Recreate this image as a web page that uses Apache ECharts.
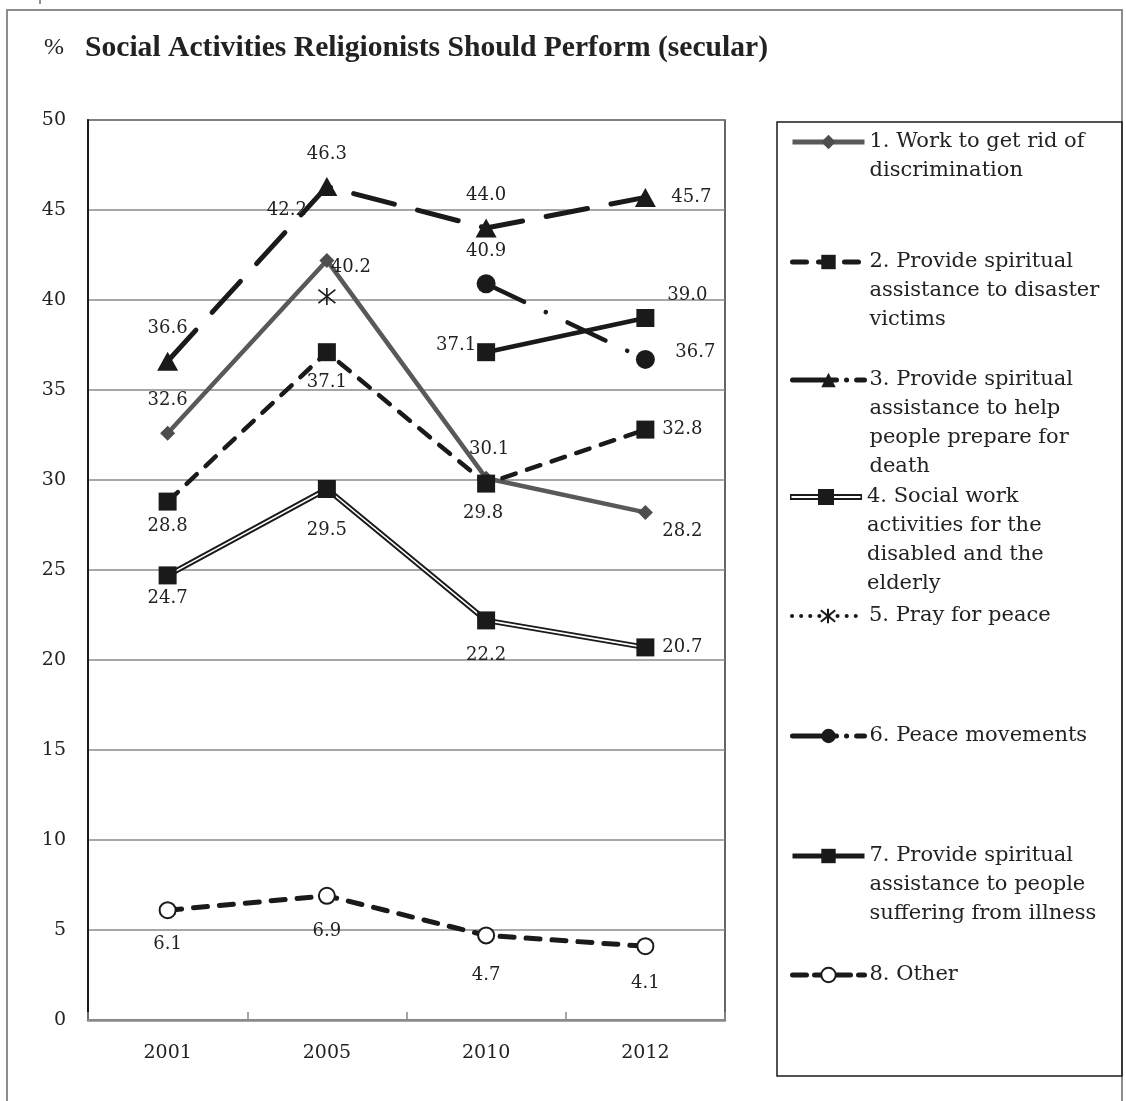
<!DOCTYPE html>
<html><head><meta charset="utf-8">
<script src="https://cdn.jsdelivr.net/npm/echarts@6/dist/echarts.min.js"></script>
<style>html,body{margin:0;padding:0;background:#fff}#chart{width:1126px;height:1101px}</style>
</head><body><div id="chart"></div>
<script>
// ---- data ----
const years = ['2001', '2005', '2010', '2012'];
const discrimination  = [32.6, 42.2, 30.1, 28.2];
const disasterVictims = [28.8, 37.1, 29.8, 32.8];
const prepareForDeath = [36.6, 46.3, 44.0, 45.7];
const socialWork      = [24.7, 29.5, 22.2, 20.7];
const prayForPeace    = [null, 40.2, null, null];
const peaceMovements  = [null, null, 40.9, 36.7];
const illness         = [null, null, 37.1, 39.0];
const other           = [6.1, 6.9, 4.7, 4.1];
const yMin = 0, yMax = 50, yStep = 5;

const names = [
  '1. Work to get rid of\ndiscrimination',
  '2. Provide spiritual\nassistance to disaster\nvictims',
  '3. Provide spiritual\nassistance to help\npeople prepare for\ndeath',
  '4. Social work\nactivities for the\ndisabled and the\nelderly',
  '5. Pray for peace',
  '6. Peace movements',
  '7. Provide spiritual\nassistance to people\nsuffering from illness',
  '8. Other'
];

// ---- label offsets (style) ----
const offs = {
  s1: [[0,-33],[-40,-50],[3,-29],[37,19]],
  s2: [[0,25],[0,30],[-3,30],[37,0]],
  s3: [[0,-33],[0,-32],[0,-33],[46,0]],
  s4: [[0,23],[0,41],[0,35],[37,0]],
  s5: [null,[24,-29],null,null],
  s6: [null,null,[0,-32],[50,-7]],
  s7: [null,null,[-30,-7],[42,-23]],
  s8: [[0,34],[0,36],[0,40],[0,37]]
};
const SERIF = 'DejaVu Serif';
const INK = '#1a1a1a';
function withLabels(arr, off) {
  return arr.map((v, i) => v == null ? '-' : {
    value: v,
    label: { show: true, position: 'inside', offset: off[i] || [0, 0] }
  });
}
const labelBase = {
  show: true, color: '#222', fontFamily: SERIF, fontSize: 18,
  formatter: p => Number(p.value).toFixed(1)
};

const asterisk = 'path://M2,2L18,18M18,2L2,18M10,0L10,20';
const doubleLineIcon = 'path://M0,6L72,6L72,12L0,12ZM1.5,8L1.5,10L70.5,10L70.5,8ZM28,1L44,1L44,17L28,17ZM0,0L0.01,0L0.01,0.01ZM0,18L0.01,18L0.01,17.99Z';

const series = [
  { name: names[0], type: 'line', data: withLabels(discrimination, offs.s1), z: 4,
    symbol: 'diamond', symbolSize: 15, itemStyle: { color: '#4d4d4d' },
    lineStyle: { color: '#595959', width: 4.5 }, label: labelBase },
  { name: names[1], type: 'line', data: withLabels(disasterVictims, offs.s2), z: 5,
    symbol: 'rect', symbolSize: 18, itemStyle: { color: INK },
    lineStyle: { color: INK, width: 4.5, type: [14, 12], cap: 'round' }, label: labelBase },
  { name: names[2], type: 'line', data: withLabels(prepareForDeath, offs.s3), z: 5,
    symbol: 'triangle', symbolSize: [21, 19], itemStyle: { color: INK },
    lineStyle: { color: INK, width: 5, type: [42, 24], cap: 'round' }, label: labelBase },
  { name: names[3], type: 'line', data: socialWork, z: 3,
    symbol: 'none', itemStyle: { color: INK },
    lineStyle: { color: INK, width: 5.5 } },
  { name: '4-inner', type: 'line', data: withLabels(socialWork, offs.s4), z: 3.5,
    symbol: 'rect', symbolSize: 18, itemStyle: { color: INK },
    lineStyle: { color: '#ffffff', width: 1.6 }, label: labelBase },
  { name: names[4], type: 'line', data: withLabels(prayForPeace, offs.s5), z: 5,
    symbol: asterisk, symbolSize: 17, itemStyle: { color: INK, borderColor: INK, borderWidth: 1.6 },
    lineStyle: { color: INK, width: 4, type: [0.1, 9], cap: 'round' }, label: labelBase },
  { name: names[5], type: 'line', data: withLabels(peaceMovements, offs.s6), z: 5,
    symbol: 'circle', symbolSize: 19, itemStyle: { color: INK },
    lineStyle: { color: INK, width: 4.5, type: [42, 24, 0.1, 24], cap: 'round' }, label: labelBase },
  { name: names[6], type: 'line', data: withLabels(illness, offs.s7), z: 5,
    symbol: 'rect', symbolSize: 18, itemStyle: { color: INK },
    lineStyle: { color: INK, width: 4.5 }, label: labelBase },
  { name: names[7], type: 'line', data: withLabels(other, offs.s8), z: 5,
    symbol: 'circle', symbolSize: 16, itemStyle: { color: '#ffffff', borderColor: INK, borderWidth: 2 },
    lineStyle: { color: INK, width: 5, type: [14, 12], cap: 'round' }, label: labelBase }
];

// ---- legend layout (style) ----
const LH = 29;
const legendCenters = [142, 262, 380, 497, 616, 736, 856, 975];
const legendLine = [
  { width: 5 }, { width: 5 }, { width: 5, type: [44, 10, 0.1, 10] }, { width: 5 },
  { width: 4 }, { width: 5, type: [44, 10, 0.1, 10] }, { width: 5 }, { width: 5, type: [14, 8] }
];
const legends = names.map((nm, i) => {
  const n = nm.split('\n').length;
  return {
    data: [i === 3 ? { name: nm, icon: doubleLineIcon } : nm],
    formatter: s => '\n'.repeat(n - 1) + s,
    left: 790, top: legendCenters[i] - (2 * n - 1) * LH / 2,
    orient: 'vertical', padding: 0, itemWidth: 72, itemHeight: 18, selectedMode: false,
    lineStyle: legendLine[i],
    textStyle: { fontFamily: SERIF, fontSize: 21, lineHeight: LH, color: '#222' }
  };
});

const chart = echarts.init(document.getElementById('chart'), null, { renderer: 'canvas' });
chart.setOption({
  animation: false,
  backgroundColor: '#ffffff',
  title: [
    { text: '%', left: 44, top: 36, padding: 0,
      textStyle: { fontFamily: 'Liberation Serif', fontSize: 24, fontWeight: 'normal', color: '#222' } },
    { text: 'Social Activities Religionists Should Perform (secular)', left: 85, top: 33, padding: 0,
      textStyle: { fontFamily: 'Liberation Serif', fontSize: 29.6, fontWeight: 'bold', color: '#222' } }
  ],
  graphic: [
    { type: 'text', left: 8, top: -14, style: { text: 'Graph 1-3', font: '18px "Liberation Sans"', fill: '#777' } },
    { type: 'rect', shape: { x: 7, y: 10, width: 1115, height: 1110 }, style: { fill: 'none', stroke: '#8c8c8c', lineWidth: 2 }, z: 0 },
    { type: 'rect', shape: { x: 777, y: 122, width: 345, height: 954 }, style: { fill: 'none', stroke: INK, lineWidth: 1.5 }, z: 1 }
  ],
  legend: legends,
  grid: { left: 88, right: 401, top: 120, bottom: 81, show: true, borderColor: '#333', borderWidth: 1.5 },
  xAxis: {
    type: 'category', data: years, boundaryGap: true,
    axisLine: { lineStyle: { color: '#8a8a8a', width: 2.5 } },
    axisTick: { show: true, inside: true, length: 8, lineStyle: { color: '#8a8a8a', width: 1.5 } },
    axisLabel: { fontFamily: SERIF, fontSize: 19, color: '#222', margin: 24 }
  },
  yAxis: {
    type: 'value', min: yMin, max: yMax, interval: yStep,
    axisLine: { show: true, lineStyle: { color: INK, width: 2 } },
    axisTick: { show: false },
    axisLabel: { fontFamily: SERIF, fontSize: 19, color: '#222', margin: 22 },
    splitLine: { lineStyle: { color: '#8a8a8a', width: 1.5 } }
  },
  series: series
});
</script>
</body></html>
